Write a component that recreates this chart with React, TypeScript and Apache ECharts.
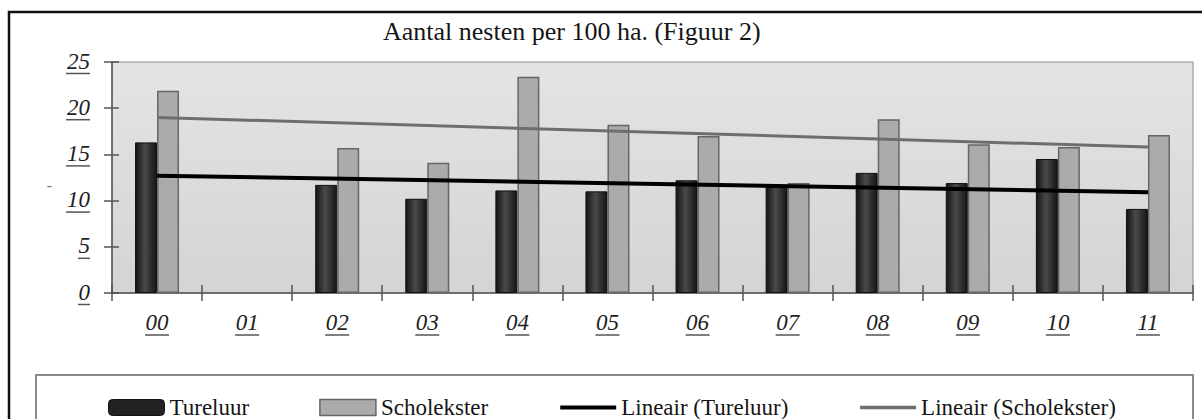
import React, { useEffect, useRef } from "react";
import * as echarts from "echarts";

const categories = ["00", "01", "02", "03", "04", "05", "06", "07", "08", "09", "10", "11"];
const tureluur = [16.3, null, 11.7, 10.2, 11.1, 11.0, 12.2, 11.5, 13.0, 11.9, 14.5, 9.1];
const scholekster = [21.9, null, 15.7, 14.1, 23.4, 18.2, 17.0, 11.9, 18.8, 16.1, 15.8, 17.1];
// trend line end values (first and last category)
const trendTureluur = [12.7, 10.9];
const trendScholekster = [19.0, 15.8];
const yTicks = [0, 5, 10, 15, 20, 25];

const titleText = "Aantal nesten per 100 ha. (Figuur 2)";
const seriesNames = ["Tureluur", "Scholekster", "Lineair (Tureluur)", "Lineair (Scholekster)"];

const FONT = "'Liberation Serif', 'Times New Roman', serif";

function trendData(ends: number[]) {
  return categories.map((_, i) => (i === 0 ? ends[0] : i === categories.length - 1 ? ends[1] : null));
}

function labelRich() {
  return {
    t: { fontSize: 23, fontStyle: "italic", fontFamily: FONT, color: "#1e1e1e", lineHeight: 23 },
    u2: { width: 24, height: 1.5, lineHeight: 2, backgroundColor: "#555" },
    u1: { width: 12, height: 1.5, lineHeight: 2, backgroundColor: "#555" },
  };
}

function underlined(v: string) {
  return `{t|${v}}\n{${v.length > 1 ? "u2" : "u1"}| }`;
}

export default function App() {
  const ref = useRef<HTMLDivElement>(null);
  useEffect(() => {
    if (!ref.current) return;
    const chart = echarts.init(ref.current, null, { renderer: "svg" });
    const option: any = {
      animation: false,
      backgroundColor: "#ffffff",
      title: {
        text: titleText,
        left: 383,
        top: 18,
        padding: 0,
        textStyle: { fontFamily: FONT, fontSize: 26, fontWeight: "normal", color: "#151515" },
      },
      graphic: [
        {
          type: "rect",
          silent: true,
          z: 0,
          shape: { x: 9, y: 12, width: 1260, height: 520 },
          style: { fill: null, stroke: "#111", lineWidth: 2.5 },
        },
        {
          type: "rect",
          silent: true,
          z: 0,
          shape: { x: 36, y: 375, width: 1157, height: 120 },
          style: { fill: "#fff", stroke: "#8a8a8a", lineWidth: 2 },
        },
      ],
      legend: {
        left: 103,
        top: 391,
        itemWidth: 56,
        itemHeight: 16,
        itemGap: 70,
        textStyle: { fontFamily: FONT, fontSize: 23, color: "#151515" },
        data: [
          { name: seriesNames[0], icon: "roundRect", itemStyle: { color: "#222", borderColor: "#111", borderWidth: 1 } },
          { name: seriesNames[1], icon: "rect", itemStyle: { color: "#ababab", borderColor: "#666", borderWidth: 1.5 } },
          { name: seriesNames[2], itemStyle: { opacity: 0 }, lineStyle: { width: 4, color: "#000" } },
          { name: seriesNames[3], itemStyle: { opacity: 0 }, lineStyle: { width: 3.5, color: "#6e6e6e" } },
        ],
      },
      grid: {
        left: 112,
        right: 9,
        top: 62,
        bottom: 126,
        show: true,
        borderColor: "#8c8c8c",
        borderWidth: 1,
        backgroundColor: new echarts.graphic.LinearGradient(0, 0, 0, 1, [
          { offset: 0, color: "#e4e4e4" },
          { offset: 1, color: "#d4d4d4" },
        ]),
      },
      xAxis: [
        {
          type: "category",
          data: categories,
          position: "bottom",
          axisLine: { show: true, lineStyle: { color: "#555", width: 1.5 } },
          axisTick: { show: true, length: 8, lineStyle: { color: "#555", width: 1.5 } },
          axisLabel: {
            margin: 18,
            formatter: (v: string) => underlined(v),
            rich: labelRich(),
          },
        },
        {
          type: "category",
          data: categories,
          position: "bottom",
          axisLine: { show: false },
          axisTick: { show: true, inside: true, length: 8, lineStyle: { color: "#555", width: 1.5 } },
          axisLabel: { show: false },
          splitLine: { show: false },
        },
      ],
      yAxis: [
        {
          type: "value",
          min: yTicks[0],
          max: yTicks[yTicks.length - 1],
          interval: 5,
          name: "-",
          nameLocation: "middle",
          nameRotate: 0,
          nameGap: 60,
          nameTextStyle: { fontFamily: FONT, fontSize: 16, color: "#777", verticalAlign: "top" },
          splitLine: { show: false },
          axisLine: { show: true, lineStyle: { color: "#555", width: 1.5 } },
          axisTick: { show: true, length: 8, lineStyle: { color: "#555", width: 1.5 } },
          axisLabel: {
            margin: 22,
            formatter: (v: number) => underlined(String(v)),
            rich: labelRich(),
          },
        },
        {
          type: "value",
          position: "left",
          min: yTicks[0],
          max: yTicks[yTicks.length - 1],
          interval: 5,
          splitLine: { show: false },
          axisLine: { show: false },
          axisTick: { show: true, inside: true, length: 7, lineStyle: { color: "#555", width: 1.5 } },
          axisLabel: { show: false },
        },
      ],
      series: [
        {
          name: seriesNames[0],
          type: "bar",
          data: tureluur,
          barWidth: 22,
          barGap: "0%",
          itemStyle: {
            color: new echarts.graphic.LinearGradient(0, 0, 1, 0, [
              { offset: 0, color: "#141414" },
              { offset: 0.45, color: "#4a4a4a" },
              { offset: 1, color: "#141414" },
            ]),
            borderColor: "#111",
            borderWidth: 1,
          },
          z: 2,
        },
        {
          name: seriesNames[1],
          type: "bar",
          data: scholekster,
          barWidth: 22,
          barGap: "0%",
          itemStyle: { color: "#ababab", borderColor: "#666", borderWidth: 1.5 },
          z: 2,
        },
        {
          name: seriesNames[2],
          type: "line",
          data: trendData(trendTureluur),
          connectNulls: true,
          symbol: "none",
          lineStyle: { color: "#000", width: 4 },
          itemStyle: { color: "#000" },
          z: 5,
        },
        {
          name: seriesNames[3],
          type: "line",
          data: trendData(trendScholekster),
          connectNulls: true,
          symbol: "none",
          lineStyle: { color: "#6e6e6e", width: 3 },
          itemStyle: { color: "#6e6e6e" },
          z: 4,
        },
      ],
    };
    chart.setOption(option);
    return () => chart.dispose();
  }, []);
  return (
    <div
      ref={ref}
      style={{ position: "absolute", left: 0, top: 0, width: 1202, height: 419, background: "#fff" }}
    />
  );
}
